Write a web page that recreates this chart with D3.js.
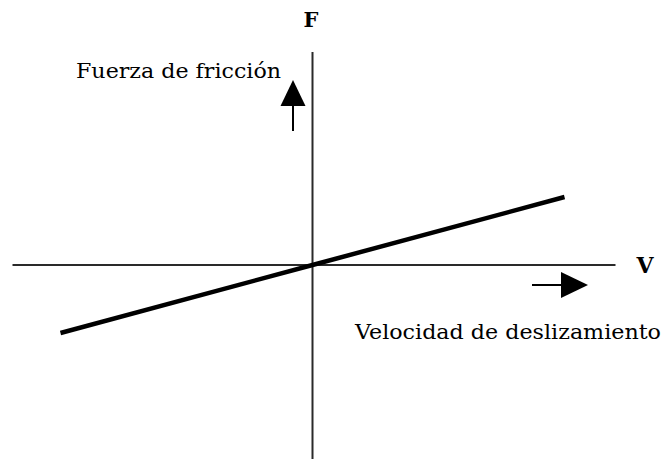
<!DOCTYPE html>
<html lang="es">
<head>
<meta charset="UTF-8" />
<title>Fuerza de fricción vs velocidad</title>
<script src="https://d3js.org/d3.v7.min.js"></script>
<style>
  body {
    margin: 0;
    background: #fff;
    overflow: hidden;
  }
  svg {
    display: block;
  }
  .axis-line {
    stroke: #2a2a2a;
    stroke-width: 2px;
  }
  .label {
    font-family: "DejaVu Serif", serif;
    fill: #000;
  }
</style>
</head>
<body>

<svg width="664" height="459"></svg>

<script>
  const width = 664, height = 459;

  // sliding velocity and friction force (linear, through origin)
  const velocity = [-8.4, 0, 8.4];
  const friction = [-3.4, 0, 3.4];

  // axis extents in data units
  const xExtent = [-10, 10.1];
  const yExtent = [-9.8, 10.65];

  const x = d3.scaleLinear().domain([-10, 10]).range([12.5, 612.5]);
  const y = d3.scaleLinear().domain([-10, 10]).range([465, 65]);

  const svg = d3.select("svg");

  // axes
  svg.append("line")
    .attr("class", "axis-line")
    .attr("x1", x(xExtent[0])).attr("x2", x(xExtent[1]))
    .attr("y1", y(0)).attr("y2", y(0));

  svg.append("line")
    .attr("class", "axis-line")
    .attr("x1", x(0)).attr("x2", x(0))
    .attr("y1", y(yExtent[1])).attr("y2", y(yExtent[0]));

  // friction line
  const pts = velocity.map((v, i) => [v, friction[i]]);
  svg.append("path")
    .datum(pts)
    .attr("fill", "none")
    .attr("stroke", "#000")
    .attr("stroke-width", 4.5)
    .attr("d", d3.line().x(d => x(d[0])).y(d => y(d[1])));

  // direction arrows
  function arrow(x1, y1, x2, y2, headLen, headW) {
    const ang = Math.atan2(y2 - y1, x2 - x1);
    const bx = x2 - headLen * Math.cos(ang), by = y2 - headLen * Math.sin(ang);
    const px = Math.sin(ang) * headW / 2, py = -Math.cos(ang) * headW / 2;
    svg.append("line")
      .attr("x1", x1).attr("y1", y1).attr("x2", bx).attr("y2", by)
      .attr("stroke", "#000").attr("stroke-width", 2);
    svg.append("path")
      .attr("d", `M${x2},${y2}L${bx + px},${by + py}L${bx - px},${by - py}Z`)
      .attr("fill", "#000");
  }
  arrow(293, 131, 293, 80, 26, 25);
  arrow(532, 285, 588, 285, 27, 26);

  // labels
  svg.append("text")
    .attr("class", "label")
    .attr("x", 311).attr("y", 27)
    .attr("text-anchor", "middle")
    .attr("font-size", 21)
    .attr("font-weight", "bold")
    .text("F");

  svg.append("text")
    .attr("class", "label")
    .attr("x", 645).attr("y", 273)
    .attr("text-anchor", "middle")
    .attr("font-size", 22)
    .attr("font-weight", "bold")
    .text("V");

  svg.append("text")
    .attr("class", "label")
    .attr("x", 76).attr("y", 78)
    .attr("font-size", 21)
    .attr("textLength", 205)
    .attr("lengthAdjust", "spacingAndGlyphs")
    .text("Fuerza de fricción");

  svg.append("text")
    .attr("class", "label")
    .attr("x", 355).attr("y", 339)
    .attr("font-size", 21)
    .attr("textLength", 306)
    .attr("lengthAdjust", "spacingAndGlyphs")
    .text("Velocidad de deslizamiento");
</script>

</body>
</html>
